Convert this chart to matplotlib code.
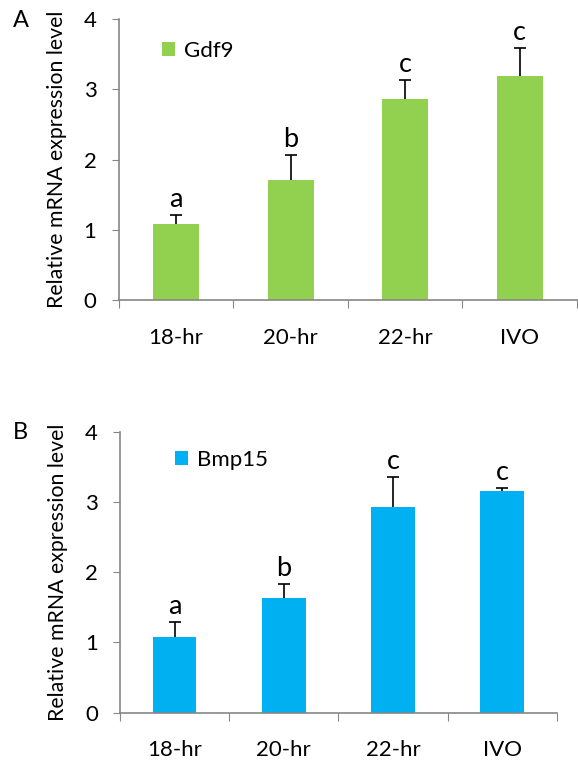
import matplotlib
matplotlib.use("Agg")
import matplotlib.pyplot as plt
import numpy as np

plt.rcParams["font.family"] = ["Lato", "DejaVu Sans"]

categories = ["18-hr", "20-hr", "22-hr", "IVO"]

gdf9_mean = [1.08, 1.71, 2.87, 3.19]
gdf9_err = [0.13, 0.36, 0.27, 0.40]
gdf9_sig = ["a", "b", "c", "c"]

bmp15_mean = [1.07, 1.63, 2.93, 3.16]
bmp15_err = [0.22, 0.20, 0.42, 0.04]
bmp15_sig = ["a", "b", "c", "c"]

AXIS_GREY = "#868686"


def draw_panel(ax, means, errs, sig, color, gene, letter, legend_xy, letter_x):
    x = np.arange(len(categories))
    means = np.array(means)
    tops = means + np.array(errs)
    ax.bar(x, means, width=0.4, color=color, zorder=2, label=gene)
    # upper-only error bars
    ax.vlines(x, means, tops, color="black", lw=1.2, zorder=3)
    ax.plot(x, tops, "_", color="black", ms=8, mew=1.2, zorder=3)
    for xi, t, s in zip(x, tops, sig):
        ax.annotate(s, (xi, t), xytext=(0, 2), textcoords="offset points",
                    ha="center", va="bottom", fontsize=19.5)

    ax.set_xlim(-0.5, len(categories) - 0.5)
    ax.set_ylim(0, 4)
    ax.set_yticks([0, 1, 2, 3, 4])
    ax.tick_params(axis="y", labelsize=16, length=5, color=AXIS_GREY, pad=11)

    # boundary ticks on x, category labels at centers
    ax.set_xticks(np.arange(len(categories) + 1) - 0.5)
    ax.set_xticklabels([])
    ax.tick_params(axis="x", length=6, color=AXIS_GREY)
    ax.set_xticks(x, minor=True)
    ax.set_xticklabels(categories, minor=True)
    ax.tick_params(axis="x", which="minor", length=0, labelsize=16, pad=20)

    for side in ["top", "right"]:
        ax.spines[side].set_visible(False)
    for side in ["left", "bottom"]:
        ax.spines[side].set_color(AXIS_GREY)
        ax.spines[side].set_linewidth(1.2)

    ax.set_ylabel("Relative mRNA expression level", fontsize=15.3, labelpad=12)
    ax.legend(loc="upper left", bbox_to_anchor=legend_xy, frameon=False,
              fontsize=16, handlelength=0.6, handleheight=0.6,
              handletextpad=0.4, borderaxespad=0)
    ax.text(letter_x, 0.995, letter, transform=ax.transAxes, fontsize=17,
            ha="left", va="center")


fig = plt.figure(figsize=(5.78, 7.64), dpi=100)
ax1 = fig.add_axes([0.2054, 0.607, 0.793, 0.368])
ax2 = fig.add_axes([0.2076, 0.0672, 0.756, 0.368])

draw_panel(ax1, gdf9_mean, gdf9_err, gdf9_sig, "#92D050", "Gdf9", "A",
           (0.075, 0.955), -0.231)
draw_panel(ax2, bmp15_mean, bmp15_err, bmp15_sig, "#00B0F0", "Bmp15", "B",
           (0.105, 0.965), -0.245)

fig.savefig("out.png", dpi=100)
